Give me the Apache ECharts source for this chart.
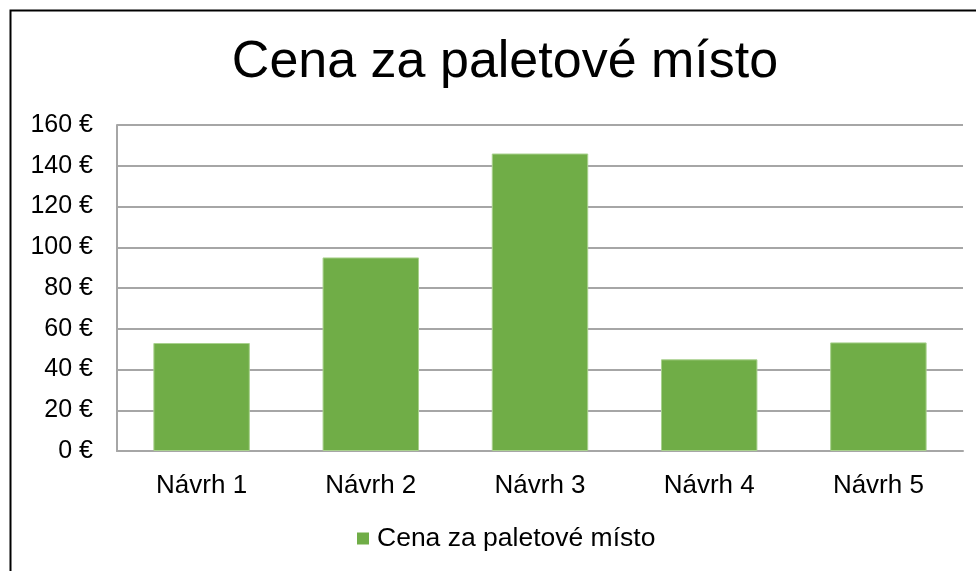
<!DOCTYPE html>
<html>
<head>
<meta charset="utf-8">
<script src="https://cdn.jsdelivr.net/npm/echarts@6/dist/echarts.min.js"></script>
<style>html,body{margin:0;padding:0;background:#fff}#c{width:976px;height:571px}</style>
</head>
<body>
<div id="c"></div>
<script>
const categories = ['Návrh 1', 'Návrh 2', 'Návrh 3', 'Návrh 4', 'Návrh 5'];
const values = [53, 95, 146, 45, 53.3];
const seriesName = 'Cena za paletové místo';
const titleText = 'Cena za paletové místo';

const chart = echarts.init(document.getElementById('c'));
chart.setOption({
  animation: false,
  textStyle: { fontFamily: 'Liberation Sans, Arial, sans-serif' },
  title: {
    text: titleText,
    left: 500, top: 32, textAlign: 'center',
    textStyle: { fontSize: 52, fontWeight: 'normal', color: '#000', fontFamily: 'Liberation Sans, Arial, sans-serif' }
  },
  graphic: [{
    type: 'rect', silent: true,
    shape: { x: 10.5, y: 10.5, width: 1000, height: 700 },
    style: { fill: 'none', stroke: '#000', lineWidth: 2 }
  }],
  legend: {
    left: 352, top: 520,
    itemWidth: 12, itemHeight: 12, icon: 'rect',
    itemStyle: { borderWidth: 0 },
    textStyle: { fontSize: 26.5, color: '#000', padding: [0, 0, 0, 3], fontFamily: 'Liberation Sans, Arial, sans-serif' },
    data: [seriesName]
  },
  grid: { left: 117, right: 13, top: 125, bottom: 120, containLabel: false },
  xAxis: {
    type: 'category', data: categories,
    axisLine: { lineStyle: { color: '#a6a6a6', width: 2 } },
    axisTick: { show: false },
    axisLabel: { fontSize: 26, color: '#000', margin: 22 }
  },
  yAxis: {
    type: 'value', min: 0, max: 160, interval: 20,
    axisLine: { show: true, lineStyle: { color: '#a6a6a6', width: 2 } },
    axisTick: { show: false },
    splitLine: { lineStyle: { color: '#a6a6a6', width: 2 } },
    axisLabel: { fontSize: 25, color: '#000', margin: 24, formatter: '{value} €' }
  },
  series: [{
    name: seriesName, type: 'bar', data: values,
    barWidth: '57%',
    itemStyle: { color: '#70AD47', borderColor: '#a9d18e', borderWidth: 1 }
  }]
});
</script>
</body>
</html>
